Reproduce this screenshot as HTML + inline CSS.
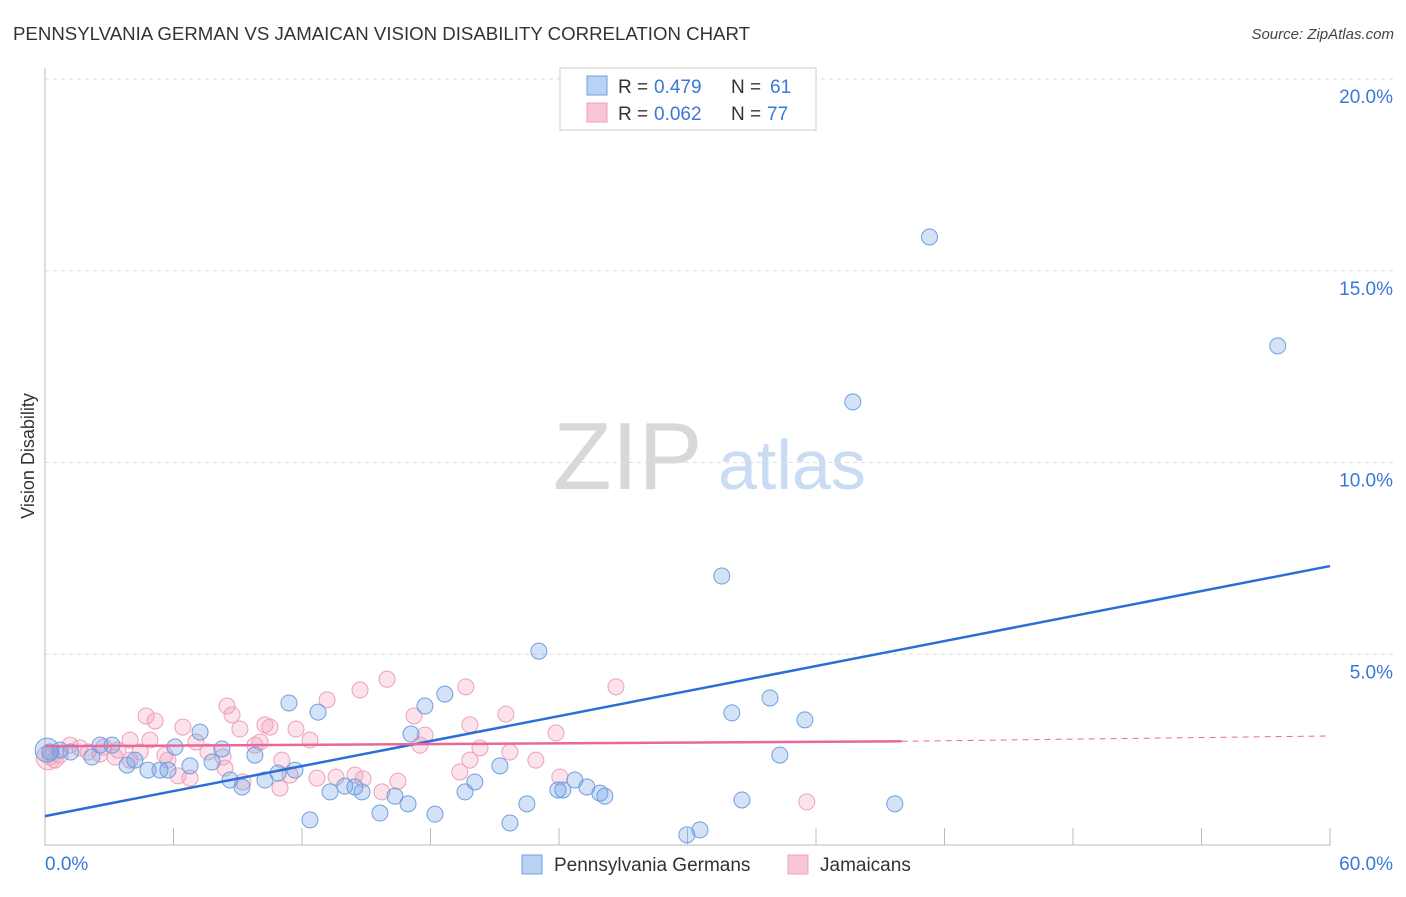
<!DOCTYPE html>
<html><head><meta charset="utf-8"><style>
body{margin:0;background:#fff;font-family:"Liberation Sans",sans-serif;}
svg text{font-family:"Liberation Sans",sans-serif;}
</style></head><body>
<svg id="chart" width="1406" height="892" xmlns="http://www.w3.org/2000/svg">
<text x="13" y="40" font-size="18.5" fill="#333" textLength="737" lengthAdjust="spacingAndGlyphs">PENNSYLVANIA GERMAN VS JAMAICAN VISION DISABILITY CORRELATION CHART</text>
<text x="1394" y="39" font-size="15" fill="#444" text-anchor="end" font-style="italic">Source: ZipAtlas.com</text>
<text x="553" y="489" font-size="96" fill="#d8d8d8" font-family="Liberation Serif">ZIP</text>
<text x="718" y="489" font-size="70" fill="#c9dcf3">atlas</text>
<text transform="translate(34,456) rotate(-90)" font-size="18" fill="#333" text-anchor="middle">Vision Disability</text>
<g id="grid"></g><g id="ticks"></g><g id="pts"></g><g id="trends"></g>
<g>
<rect x="560" y="68" width="256" height="62" fill="#fff" stroke="#ccc"/>
<rect x="587" y="76" width="20" height="19" fill="#b9d2f4" stroke="#6f9fe0"/>
<rect x="587" y="103" width="20" height="19" fill="#f9c6d6" stroke="#eea0bb"/>
<text x="618" y="93" font-size="19" fill="#333">R =</text>
<text x="654" y="93" font-size="19" fill="#3a78d8">0.479</text>
<text x="731" y="93" font-size="19" fill="#333">N =</text>
<text x="770" y="93" font-size="19" fill="#3a78d8">61</text>
<text x="618" y="120" font-size="19" fill="#333">R =</text>
<text x="654" y="120" font-size="19" fill="#3a78d8">0.062</text>
<text x="731" y="120" font-size="19" fill="#333">N =</text>
<text x="767" y="120" font-size="19" fill="#3a78d8">77</text>
</g>
<rect x="522" y="855" width="20" height="19" fill="#b9d2f4" stroke="#6f9fe0"/>
<text x="554" y="871" font-size="19" fill="#333">Pennsylvania Germans</text>
<rect x="788" y="855" width="20" height="19" fill="#f9c6d6" stroke="#eea0bb"/>
<text x="820" y="871" font-size="19" fill="#333">Jamaicans</text>
</svg>
<script>
const blueX=[41.3,57.56,37.72,31.6,23.06,33.85,32.07,35.48,18.67,17.74,12.75,11.39,17.09,7.24,6.07,8.26,9.8,3.13,2.57,2.19,0.7,0.23,4.2,3.83,4.81,5.37,5.74,6.77,7.8,8.64,9.2,10.27,10.88,11.67,13.31,14.0,14.47,14.8,15.64,16.34,16.95,18.21,19.61,20.07,21.24,22.5,21.71,23.95,24.18,24.74,25.3,25.91,26.14,29.97,30.58,32.54,34.31,39.68,12.37,0.1,1.2];
const blueY=[15.88,13.04,11.58,7.04,5.08,3.86,3.47,3.29,3.96,3.65,3.49,3.73,2.92,2.97,2.58,2.53,2.37,2.63,2.63,2.32,2.5,2.45,2.24,2.11,1.98,1.98,1.98,2.09,2.19,1.72,1.54,1.72,1.9,1.98,1.41,1.56,1.54,1.41,0.86,1.3,1.1,0.83,1.41,1.67,2.09,1.1,0.6,1.46,1.46,1.72,1.54,1.38,1.3,0.29,0.42,1.2,2.37,1.1,0.68,2.5,2.45];
const pinkX=[15.97,19.65,26.66,14.71,13.17,8.5,4.72,5.14,8.73,17.23,21.52,19.84,10.27,10.5,11.72,6.44,9.1,3.97,4.9,12.37,7.05,17.51,20.31,23.86,1.17,1.63,2.75,3.41,4.44,2.01,0.7,0.23,5.6,7.61,8.31,9.8,11.06,5.74,6.21,6.77,8.4,12.7,13.59,14.47,14.85,16.48,19.37,19.84,22.92,24.04,11.44,10.97,9.24,15.73,35.57,21.71,3.97,3.27,2.57,0.47,17.74,10.04,0.15];
const pinkY=[4.35,4.15,4.15,4.07,3.81,3.65,3.39,3.26,3.42,3.39,3.44,3.16,3.16,3.1,3.05,3.1,3.05,2.76,2.76,2.76,2.71,2.63,2.56,2.95,2.63,2.56,2.58,2.5,2.45,2.45,2.37,2.32,2.37,2.45,2.32,2.63,2.24,2.24,1.83,1.77,2.03,1.77,1.8,1.85,1.75,1.69,1.93,2.24,2.24,1.8,1.85,1.51,1.67,1.41,1.15,2.45,2.24,2.32,2.4,2.24,2.89,2.71,2.3];
const yTicks=[5,10,15,20];
const yTickLabels=["5.0%","10.0%","15.0%","20.0%"];
const blueTrend=[0.78,7.3];
const pinkTrend=[2.6,2.73,2.87];
const NS="http://www.w3.org/2000/svg";
const sx=v=>45+v*1285/60, sy=v=>846-v*38.35;
function mk(tag,attrs,parent){const e=document.createElementNS(NS,tag);for(const k in attrs)e.setAttribute(k,attrs[k]);document.getElementById(parent).appendChild(e);return e;}
yTicks.forEach((t,i)=>{
 const g=mk('line',{x1:45,x2:1394,y1:sy(t),y2:sy(t),stroke:'#ddd','stroke-dasharray':'4,4'},'grid');
 
 
 const l=mk('text',{x:1393,y:sy(t)+24,'font-size':19,fill:'#3a78d8','text-anchor':'end'},'grid');
 l.textContent=yTickLabels[i];
 
 
});
const ax=mk('line',{x1:45,x2:45,y1:68,y2:846,stroke:'#bbb'},'ticks');


const bx=mk('line',{x1:45,x2:1330,y1:845,y2:845,stroke:'#bbb'},'ticks');


for(let i=0;i<=10;i++){
 const t=mk('line',{x1:sx(i*6),x2:sx(i*6),y1:828,y2:845,stroke:'#bbb'},'ticks');
 
 
}
const x0=mk('text',{x:45,y:870,'font-size':19,fill:'#3a78d8'},'ticks');x0.textContent='0.0%';


const x1=mk('text',{x:1393,y:870,'font-size':19,fill:'#3a78d8','text-anchor':'end'},'ticks');x1.textContent='60.0%';


pinkX.forEach((v,i)=>{
 const c=mk('circle',{cx:sx(v),cy:sy(pinkY[i]),r:i==pinkX.length-1?12:8,fill:'rgba(242,160,190,0.3)',stroke:'#eea0bb','stroke-width':1},'pts');
 
 
});
blueX.forEach((v,i)=>{
 const c=mk('circle',{cx:sx(v),cy:sy(blueY[i]),r:i==blueX.length-2?12:8,fill:'rgba(110,160,230,0.3)',stroke:'#6f9fe0','stroke-width':1},'pts');
 
 
});
const bt=mk('line',{x1:sx(0),y1:sy(blueTrend[0]),x2:sx(60),y2:sy(blueTrend[1]),stroke:'#2b6fd6','stroke-width':2.5},'trends');


const pt=mk('line',{x1:sx(0),y1:sy(pinkTrend[0]),x2:sx(40),y2:sy(pinkTrend[1]),stroke:'#e8689a','stroke-width':2.5},'trends');


const pd=mk('line',{x1:sx(40),y1:sy(pinkTrend[1]),x2:sx(60),y2:sy(pinkTrend[2]),stroke:'#e8689a','stroke-width':1,'stroke-dasharray':'6,5'},'trends');


</script>
</body></html>
